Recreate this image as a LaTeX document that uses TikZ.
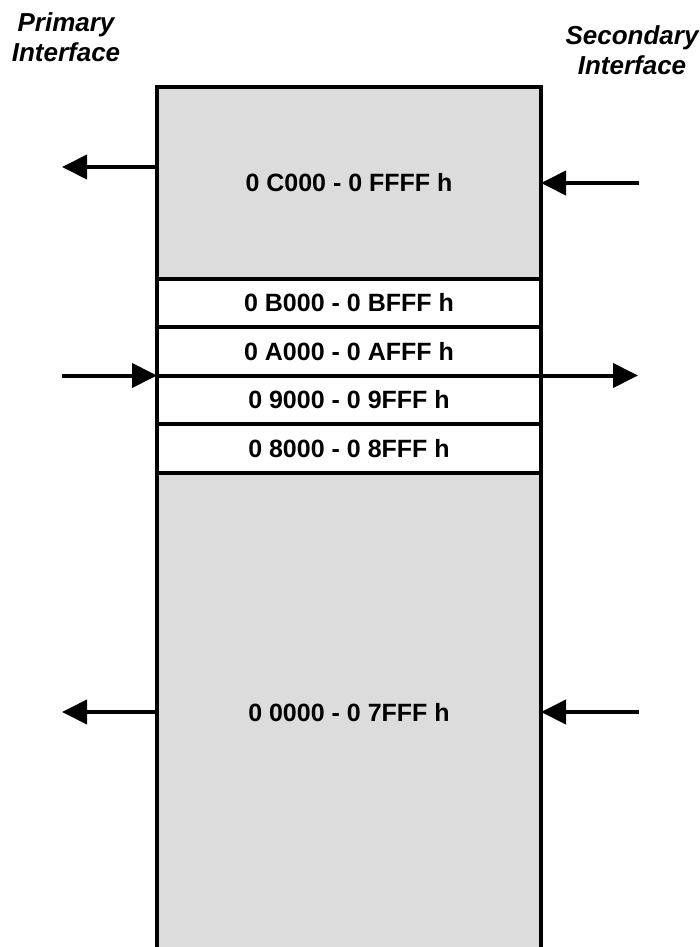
\documentclass[tikz,border=0pt]{standalone}
\usepackage{fontspec}
\setmainfont{Liberation Sans}
\usetikzlibrary{positioning,arrows.meta}
\definecolor{blockgray}{RGB}{220,220,220}
\tikzset{
  membox/.style = {draw, line width=4pt, outer sep=0pt, minimum width=384pt,
                   font={\bfseries\fontsize{25}{28}\selectfont}},
  graybox/.style = {membox, fill=blockgray},
  bandbox/.style = {membox, fill=white, minimum height=48.5pt},
  iflabel/.style = {align=center, font={\bfseries\itshape\fontsize{26}{30}\selectfont}},
  arr/.style = {line width=4pt, -{Triangle[length=25pt,width=24pt]}}
}
\begin{document}
\begin{tikzpicture}[x=1pt, y=-1pt, node distance=0pt]
     \useasboundingbox (0,0) rectangle (700,947);
     % the labels
     \node (primary) [iflabel] at (66,37) {Primary\\Interface};
     \node (secondary) [iflabel] at (632,50) {Secondary\\Interface};
     % the memory blocks
     \node (C block) [graybox, minimum height=191.5pt] at (349,182.75) {0 C000 - 0 FFFF h};
     \node (B band) [bandbox, below=of C block] {0 B000 - 0 BFFF h};
     \node (A band) [bandbox, below=of B band] {0 A000 - 0 AFFF h};
     \node (9 band) [bandbox, below=of A band] {0 9000 - 0 9FFF h};
     \node (8 band) [bandbox, below=of 9 band] {0 8000 - 0 8FFF h};
     \node (low block) [graybox, minimum height=479.5pt, below=of 8 band] {0 0000 - 0 7FFF h};
     % the free ends
     \coordinate (pri hi) at (62,167);
     \coordinate (sec hi) at (639,183);
     \coordinate (pri mid) at (62,375.5);
     \coordinate (sec mid) at (638,375.5);
     \coordinate (pri lo) at (62,712);
     \coordinate (sec lo) at (639,712);
     % the arrows
     \draw[arr] (C block.west |- pri hi) -- (pri hi);
     \draw[arr] (sec hi) -- (sec hi -| C block.east);
     \draw[arr] (pri mid) -- (A band.south west);
     \draw[arr] (A band.south east) -- (sec mid);
     \draw[arr] (low block.west |- pri lo) -- (pri lo);
     \draw[arr] (sec lo) -- (sec lo -| low block.east);
\end{tikzpicture}
\end{document}
